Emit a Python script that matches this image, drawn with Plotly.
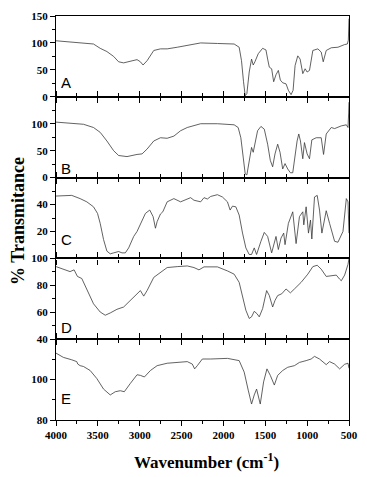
import plotly.graph_objects as go
from plotly.subplots import make_subplots

# ---------------- data ----------------
wn_A = [4000, 3872, 3752, 3632, 3552, 3472, 3392, 3312, 3252, 3192, 3112, 3032, 2992, 2960, 2912,
        2832, 2752, 2672, 2552, 2432, 2272, 2072, 1872, 1812, 1784, 1760, 1740, 1720, 1692, 1664,
        1644, 1624, 1584, 1532, 1492, 1472, 1452, 1424, 1400, 1372, 1344, 1320, 1292, 1252, 1224,
        1192, 1168, 1144, 1112, 1084, 1052, 1024, 1000, 972, 932, 872, 832, 808, 772, 712, 632,
        552, 520, 508, 500]
tr_A = [104, 102, 101, 99, 98, 90, 84, 75, 65, 63, 66, 69, 65, 59, 67,
        86, 89, 89, 92, 96, 100, 99, 98, 92, 67, 28, 2, 6, 46, 70,
        59, 65, 80, 90, 87, 70, 55, 52, 28, 41, 49, 31, 26, 24, 12,
        4, 12, 58, 76, 70, 43, 52, 46, 49, 86, 89, 83, 65, 86, 91, 92,
        97, 98, 105, 145]

wn_B = [4000, 3872, 3672, 3552, 3472, 3392, 3312, 3252, 3152, 3032, 2972, 2912, 2832, 2752, 2672,
        2592, 2512, 2432, 2352, 2272, 2072, 1872, 1824, 1792, 1764, 1740, 1720, 1692, 1664, 1644,
        1624, 1592, 1552, 1512, 1472, 1440, 1412, 1384, 1352, 1324, 1292, 1264, 1232, 1200, 1172,
        1152, 1120, 1100, 1080, 1052, 1032, 1000, 972, 944, 892, 832, 804, 772, 712, 672, 592,
        532, 512, 504, 500]
tr_B = [103, 101, 99, 93, 84, 68, 50, 41, 39, 43, 44, 53, 68, 74, 73,
        77, 87, 93, 96, 100, 100, 98, 93, 74, 38, 7, 5, 32, 56, 47,
        62, 87, 95, 90, 62, 32, 20, 44, 62, 47, 16, 26, 16, 9, 9,
        32, 68, 81, 68, 35, 65, 44, 35, 70, 74, 74, 43, 81, 93, 91, 96,
        98, 93, 120, 140]

wn_C = [4000, 3812, 3712, 3632, 3552, 3504, 3472, 3432, 3392, 3352, 3312, 3252, 3212, 3172, 3132,
        3072, 3032, 2992, 2932, 2880, 2840, 2812, 2792, 2752, 2724, 2672, 2592, 2512, 2452, 2392,
        2352, 2272, 2232, 2192, 2152, 2072, 2012, 1952, 1920, 1892, 1852, 1812, 1772, 1732, 1692,
        1664, 1632, 1604, 1552, 1512, 1472, 1424, 1372, 1344, 1312, 1280, 1264, 1224, 1172, 1132,
        1092, 1052, 1040, 1012, 984, 960, 944, 912, 880, 852, 824, 804, 772, 732, 672, 632,
        572, 532, 512, 500]
tr_C = [46.3, 46.8, 44.4, 42.0, 38.3, 33.4, 26.0, 14.0, 5.4, 3.4, 4.1, 5.1, 4.1, 4.1, 7.8,
        16.3, 20.0, 24.9, 33.4, 35.9, 31.0, 22.4, 27.3, 33.0, 34.6, 42.0, 44.4, 42.0, 43.7, 45.1,
        43.2, 42.0, 45.1, 44.1, 46.0, 47.3, 45.6, 42.0, 35.9, 38.8, 38.3, 32.2, 18.8, 7.8, 2.9,
        2.9, 7.8, 2.9, 12.7, 19.3, 16.3, 4.1, 16.3, 6.6, 15.1, 18.8, 10.2, 26.0, 34.6, 11.0,
        31.0, 34.6, 24.9, 38.3, 18.8, 28.5, 14.4, 45.6, 46.8, 35.9, 18.8, 24.9, 35.4, 26.0, 12.7, 12.0,
        20.0, 44.4, 42.0, 18.8]

wn_D = [4000, 3912, 3832, 3784, 3744, 3692, 3632, 3552, 3472, 3412, 3352, 3272, 3192, 3112, 3032,
        2992, 2952, 2912, 2832, 2752, 2672, 2552, 2432, 2352, 2292, 2232, 2072, 1952, 1872, 1812,
        1772, 1732, 1692, 1664, 1632, 1600, 1572, 1532, 1484, 1452, 1412, 1384, 1352, 1304, 1252,
        1200, 1152, 1072, 992, 932, 880, 832, 772, 692, 652, 612, 592, 552, 512, 500]
tr_D = [93.9, 92.0, 90.2, 91.5, 86.6, 85.1, 77.3, 66.3, 60.2, 57.8, 59.5, 62.2, 63.9, 68.8, 74.4,
        76.1, 72.0, 76.1, 85.9, 89.5, 93.2, 93.9, 94.4, 93.2, 91.5, 93.7, 93.7, 90.7, 88.3, 82.2,
        72.4, 61.5, 55.4, 56.6, 60.7, 59.0, 56.6, 62.7, 76.1, 72.4, 63.9, 68.8, 72.4, 73.7, 77.3,
        74.4, 77.3, 82.2, 88.3, 93.9, 94.9, 92.0, 86.6, 87.1, 87.6, 84.6, 83.4, 87.6, 95.6, 100.0]

wn_E = [4000, 3912, 3812, 3752, 3740, 3712, 3672, 3592, 3512, 3432, 3352, 3292, 3232, 3184, 3112,
        3032, 2992, 2944, 2872, 2792, 2672, 2552, 2432, 2372, 2344, 2312, 2252, 2152, 1952, 1812,
        1752, 1704, 1664, 1632, 1604, 1560, 1520, 1480, 1440, 1392, 1352, 1292, 1232, 1152, 1092,
        1012, 952, 912, 852, 772, 732, 672, 612, 552, 512, 500]
tr_E = [113.1, 111.0, 109.8, 108.9, 107.7, 106.9, 106.5, 104.5, 100.5, 95.3, 92.4, 94.0, 94.5, 94.0, 98.1,
        102.4, 102.1, 101.3, 104.5, 106.9, 108.1, 108.5, 108.9, 107.7, 105.3, 106.9, 110.2, 110.2, 110.5, 109.4,
        103.7, 94.8, 87.9, 92.4, 95.3, 87.9, 98.9, 105.3, 102.1, 97.3, 102.1, 104.5, 106.1, 106.9, 108.5,
        109.4, 110.2, 111.5, 110.2, 107.4, 108.9, 107.7, 105.3, 107.6, 108.1, 105.6]

labels = ["A", "B", "C", "D", "E"]
y_ranges = [[0, 150], [0, 150], [0, 60], [40, 100], [80, 120]]
y_tickvals = [[0, 50, 100, 150], [0, 50, 100], [20, 40], [40, 60, 80, 100], [80, 100]]
y_minorvals = [[25, 75, 125], [25, 75, 125], [10, 30, 50], [50, 70, 90], [90, 110]]
x_tickvals = [4000, 3500, 3000, 2500, 2000, 1500, 1000, 500]
x_ticktext = ["4000", "3500", "3000", "2500", "2000", "1500", "1000", "500"]
x_minorvals = [3750, 3250, 2750, 2250, 1750, 1250, 750]

series = [(wn_A, tr_A), (wn_B, tr_B), (wn_C, tr_C), (wn_D, tr_D), (wn_E, tr_E)]

# ---------------- figure ----------------
# the page body has an 8px default margin; the figure is sized/offset to compensate
OFF = 8
L, T, PW, PH = 56 - OFF, 10 - OFF, 293, 410
W = 367 - OFF
H = 477 - OFF

fig = make_subplots(rows=5, cols=1, shared_xaxes=False, vertical_spacing=0)

serif = "Liberation Serif"
tickfont = dict(family=serif, size=11, color="black")

for i, (wn, tr) in enumerate(series):
    fig.add_trace(go.Scatter(x=wn, y=tr, mode="lines",
                             line=dict(color="#3a3a3a", width=0.8),
                             showlegend=False, hoverinfo="skip"),
                  row=i + 1, col=1)
    fig.update_xaxes(row=i + 1, col=1,
                     range=[4000, 500], autorange=False,
                     showline=True, linecolor="black", linewidth=1.2,
                     mirror=(True if i == 0 else "ticks"),
                     ticks="outside", ticklen=5, tickwidth=1, tickcolor="black",
                     tickmode="array", tickvals=x_tickvals,
                     ticktext=["<b>" + t + "</b>" for t in x_ticktext],
                     showticklabels=(i == 4), tickfont=tickfont,
                     minor=dict(ticks="outside", ticklen=3, tickwidth=1, tickcolor="black",
                                tickmode="array", tickvals=x_minorvals),
                     showgrid=False, zeroline=False)
    fig.update_yaxes(row=i + 1, col=1,
                     range=y_ranges[i], autorange=False,
                     showline=True, linecolor="black", linewidth=1.2, mirror=True,
                     ticks="outside", ticklen=5, tickwidth=1, tickcolor="black",
                     tickmode="array", tickvals=y_tickvals[i],
                     ticktext=["<b>" + str(v) + "</b>" for v in y_tickvals[i]],
                     tickfont=tickfont,
                     minor=dict(ticks="outside", ticklen=3, tickwidth=1, tickcolor="black",
                                tickmode="array", tickvals=y_minorvals[i]),
                     showgrid=False, zeroline=False)

# panel letters (page pixel positions converted to paper coordinates)
letter_px = [(66, 77), (66, 165), (66, 237), (66, 326), (66, 398)]
for lab, (px, py) in zip(labels, letter_px):
    fig.add_annotation(text=lab, xref="paper", yref="paper",
                       x=(px - 56) / PW, y=(420 - py) / PH,
                       showarrow=False, xanchor="center", yanchor="middle",
                       font=dict(family="Liberation Sans", size=15, color="black"))

fig.add_annotation(text="<b>% Transmitance</b>", xref="paper", yref="paper",
                   x=(18 - 56) / PW, y=(420 - 218) / PH, textangle=-90,
                   showarrow=False, xanchor="center", yanchor="middle",
                   font=dict(family=serif, size=18, color="black"))
fig.add_annotation(text="<b>Wavenumber (cm<sup>-1</sup>)</b>", xref="paper", yref="paper",
                   x=(206 - 56) / PW, y=(420 - 462) / PH,
                   showarrow=False, xanchor="center", yanchor="middle",
                   font=dict(family=serif, size=17, color="black"))

fig.update_layout(width=W, height=H,
                  margin=dict(l=L, r=W - L - PW, t=T, b=H - T - PH, pad=0),
                  paper_bgcolor="white", plot_bgcolor="white")

fig.write_html("out.html")
